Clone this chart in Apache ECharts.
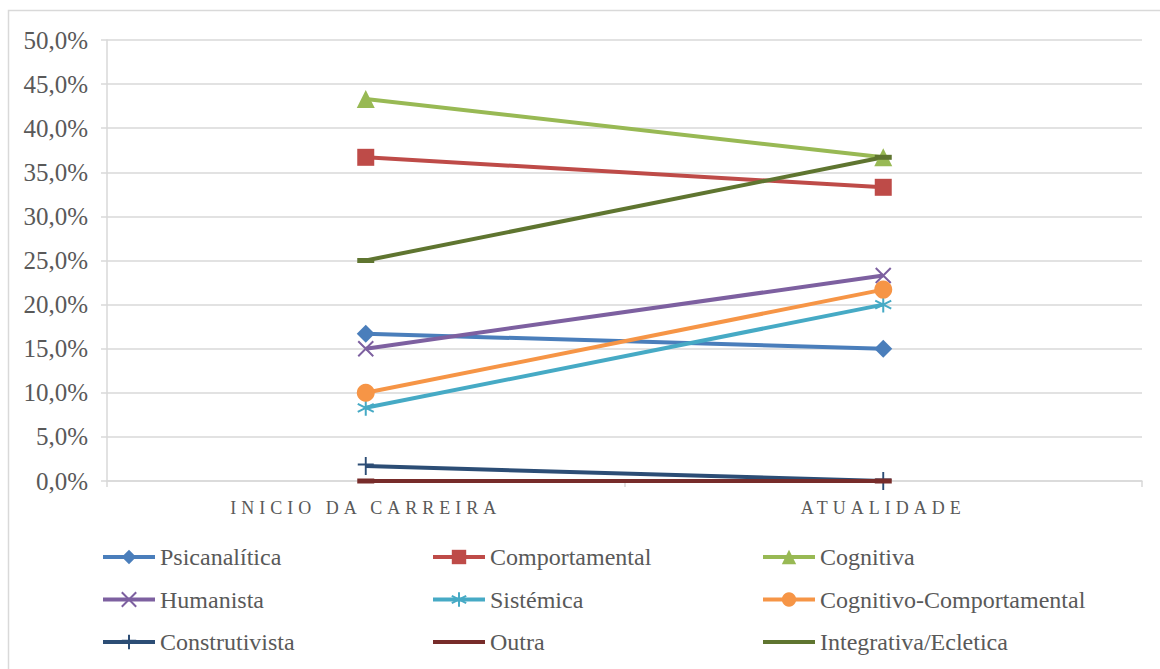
<!DOCTYPE html>
<html>
<head>
<meta charset="utf-8">
<script src="https://cdn.jsdelivr.net/npm/echarts@6/dist/echarts.min.js"></script>
<style>
    html, body { margin: 0; padding: 0; background: #fff; }
    #chart { width: 1160px; height: 669px; }
    #chart text { font-family: "Liberation Serif", serif !important; }
    /* spaced capitals on the category labels */
    #chart text[text-anchor="middle"] { letter-spacing: 5px; }
</style>
</head>
<body>
<div id="chart"></div>
<script>
// categories
var categories = ['INICIO DA CARREIRA', 'ATUALIDADE'];

// series values, percent
var psicanalitica = [16.7, 15.0];
var comportamental = [36.7, 33.3];
var cognitiva = [43.3, 36.7];
var humanista = [15.0, 23.3];
var sistemica = [8.3, 20.0];
var cognitivoComportamental = [10.0, 21.7];
var construtivista = [1.7, 0.0];
var outra = [0.0, 0.0];
var integrativa = [25.0, 36.7];

// y ticks
var yMin = 0;
var yMax = 50;
var yStep = 5;

var textColor = '#595959';
var gridColor = '#d9d9d9';
var serif = 'Liberation Serif';
var dash = 'path://M0,0L10,0L10,3L0,3Z';
var flatIcon = 'path://M0,0L52,0L52,4L0,4Z';

function makeSeries(name, data, color, symbol, size, strokeOnly) {
    var s = {
        name: name,
        type: 'line',
        data: data,
        symbol: symbol,
        symbolSize: size,
        showAllSymbol: true,
        lineStyle: { color: color, width: 4 },
        itemStyle: { color: color },
        emphasis: { disabled: true },
    };
    if (strokeOnly) {
        s.itemStyle = { color: color, borderColor: color, borderWidth: 2 };
    }
    return s;
}

var series = [
    makeSeries('Psicanalítica', psicanalitica, '#4a7ebb', 'diamond', 18),
    makeSeries('Comportamental', comportamental, '#be4b48', 'rect', 17),
    makeSeries('Cognitiva', cognitiva, '#98b954', 'triangle', 18),
    makeSeries('Humanista', humanista, '#7d60a0', 'path://M0,0L10,10M10,0L0,10', 15, true),
    makeSeries('Sistémica', sistemica, '#46aac5', 'path://M5,0L5,10M0.7,2.5L9.3,7.5M0.7,7.5L9.3,2.5', 16, true),
    makeSeries('Cognitivo-Comportamental', cognitivoComportamental, '#f69546', 'circle', 18),
    makeSeries('Construtivista', construtivista, '#2c4d75', 'path://M5,0L5,12M0,5L10,5', [16, 18], true),
    makeSeries('Outra', outra, '#772c2a', dash, [17, 5]),
    makeSeries('Integrativa/Ecletica', integrativa, '#5f7530', dash, [17, 5]),
];

function legendAt(left, names) {
    return {
        orient: 'vertical',
        left: left,
        top: 545,
        padding: 0,
        itemWidth: 52,
        itemHeight: 18,
        itemGap: 18.5,
        symbolKeepAspect: true,
        data: names.map(function (n) {
            return (n === 'Outra' || n === 'Integrativa/Ecletica') ? { name: n, icon: flatIcon } : n;
        }),
        lineStyle: { width: 4 },
        textStyle: { color: textColor, fontFamily: serif, fontSize: 24 },
    };
}

var myChart = echarts.init(document.getElementById('chart'), null, { renderer: 'svg' });
var option = {
    animation: false,
    backgroundColor: '#fff',
    graphic: [{
        type: 'rect',
        shape: { x: 8.5, y: 10.5, width: 1200, height: 700 },
        style: { fill: 'none', stroke: gridColor, lineWidth: 1.5 },
        silent: true,
    }],
    grid: { left: 107, right: 18, top: 40, bottom: 188, containLabel: false },
    legend: [
        legendAt(101, ['Psicanalítica', 'Humanista', 'Construtivista']),
        legendAt(431, ['Comportamental', 'Sistémica', 'Outra']),
        legendAt(761, ['Cognitiva', 'Cognitivo-Comportamental', 'Integrativa/Ecletica']),
    ],
    xAxis: {
        type: 'category',
        data: categories,
        boundaryGap: true,
        axisLine: { lineStyle: { color: gridColor, width: 1.5 } },
        axisTick: { show: true, length: 6, lineStyle: { color: gridColor, width: 1.5 } },
        axisLabel: { color: textColor, fontFamily: serif, fontSize: 18, margin: 18 },
    },
    yAxis: {
        type: 'value',
        min: yMin,
        max: yMax,
        interval: yStep,
        axisLine: { show: true, lineStyle: { color: gridColor, width: 1.5 } },
        axisTick: { show: true, length: 6, lineStyle: { color: gridColor, width: 1.5 } },
        splitLine: { lineStyle: { color: gridColor, width: 1.5 } },
        axisLabel: {
            color: textColor,
            fontFamily: serif,
            fontSize: 25,
            margin: 19,
            formatter: function (v) {
                return v.toFixed(1).replace('.', ',') + '%';
            },
        },
    },
    series: series,
};
option && myChart.setOption(option);
</script>
</body>
</html>
